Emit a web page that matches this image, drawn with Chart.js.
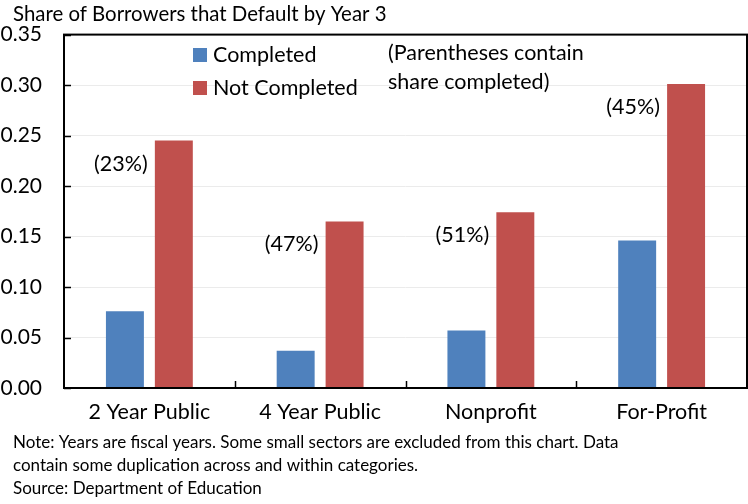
<!DOCTYPE html>
<html>
<head>
<meta charset="utf-8">
<script src="https://cdn.jsdelivr.net/npm/chart.js@4"></script>
<style>
  html, body { margin: 0; padding: 0; background: #fff; }
  #wrap { width: 748px; height: 504px; }
</style>
</head>
<body>
<div id="wrap"><canvas id="myChart" width="748" height="504"></canvas></div>
<script>
const categories = ['2 Year Public', '4 Year Public', 'Nonprofit', 'For-Profit'];
const completed = [0.076, 0.037, 0.057, 0.146];
const notCompleted = [0.245, 0.165, 0.174, 0.301];
const shareCompleted = ['(23%)', '(47%)', '(51%)', '(45%)'];
const yTicks = [0, 0.05, 0.10, 0.15, 0.20, 0.25, 0.30, 0.35];
const colors = ['#4F81BD', '#C0504D'];

const FONT = 'Lato, "Open Sans", sans-serif';

const extras = {
    id: 'extras',
    afterDraw(chart) {
        const ctx = chart.ctx;
        const a = chart.chartArea;
        const x = chart.scales.x, y = chart.scales.y;
        ctx.save();

        // frame
        ctx.strokeStyle = '#000';
        ctx.lineWidth = 2;
        ctx.strokeRect(a.left, a.top, a.right - a.left, a.bottom - a.top);

        // inward ticks
        ctx.lineWidth = 1.5;
        yTicks.forEach(v => {
            const py = Math.round(y.getPixelForValue(v)) + 0.5;
            ctx.beginPath(); ctx.moveTo(a.left, py); ctx.lineTo(a.left + 7, py); ctx.stroke();
        });
        const step = (a.right - a.left) / categories.length;
        for (let i = 1; i < categories.length; i++) {
            const px = Math.round(a.left + step * i) + 0.5;
            ctx.beginPath(); ctx.moveTo(px, a.bottom); ctx.lineTo(px, a.bottom - 7); ctx.stroke();
        }

        // title
        ctx.fillStyle = '#000';
        ctx.textBaseline = 'middle';
        ctx.textAlign = 'left';
        ctx.font = '20.4px ' + FONT;
        ctx.fillText('Share of Borrowers that Default by Year 3', 13, 14);

        // legend
        ctx.font = '21.5px ' + FONT;
        chart.data.datasets.forEach((ds, i) => {
            const ly = 55 + i * 33;
            ctx.fillStyle = ds.backgroundColor;
            ctx.fillRect(193, ly - 7, 14, 14);
            ctx.fillStyle = '#000';
            ctx.fillText(ds.label, 213, ly);
        });
        ctx.fillText('(Parentheses contain', 388, 53);
        ctx.fillText('share completed)', 388, 82);

        // share completed labels
        const meta0 = chart.getDatasetMeta(0), meta1 = chart.getDatasetMeta(1);
        ctx.textAlign = 'center';
        shareCompleted.forEach((t, i) => {
            ctx.fillText(t, meta0.data[i].x - 4, meta1.data[i].y + 23);
        });

        // notes
        ctx.textAlign = 'left';
        ctx.font = '17px ' + FONT;
        ctx.fillText('Note: Years are fiscal years. Some small sectors are excluded from this chart. Data', 13, 443);
        ctx.fillText('contain some duplication across and within categories.', 13, 466);
        ctx.fillText('Source: Department of Education', 13, 489);
        ctx.restore();
    }
};

new Chart(document.getElementById('myChart'), {
    type: 'bar',
    data: {
        labels: categories,
        datasets: [
            { label: 'Completed', data: completed, backgroundColor: colors[0] },
            { label: 'Not Completed', data: notCompleted, backgroundColor: colors[1] }
        ]
    },
    options: {
        responsive: false,
        animation: false,
        events: [],
        layout: { padding: { top: 32, right: 1, bottom: 0, left: 0 } },
        datasets: { bar: { categoryPercentage: 0.573, barPercentage: 0.776 } },
        plugins: { legend: { display: false }, title: { display: false }, tooltip: { enabled: false } },
        scales: {
            x: {
                grid: { display: false, drawTicks: false },
                border: { display: false },
                ticks: { color: '#000', font: { family: FONT, size: 21.5 }, padding: 11 },
                afterFit(s) { s.height = 116; }
            },
            y: {
                min: 0, max: 0.35,
                afterBuildTicks(s) { s.ticks = yTicks.map(v => ({ value: v })); },
                grid: { color: '#ebebeb', drawTicks: false },
                border: { display: false },
                ticks: {
                    color: '#000', font: { family: FONT, size: 21 }, padding: 22,
                    callback: v => v.toFixed(2)
                },
                afterFit(s) { s.width = 64; }
            }
        }
    },
    plugins: [extras]
});
</script>
</body>
</html>
